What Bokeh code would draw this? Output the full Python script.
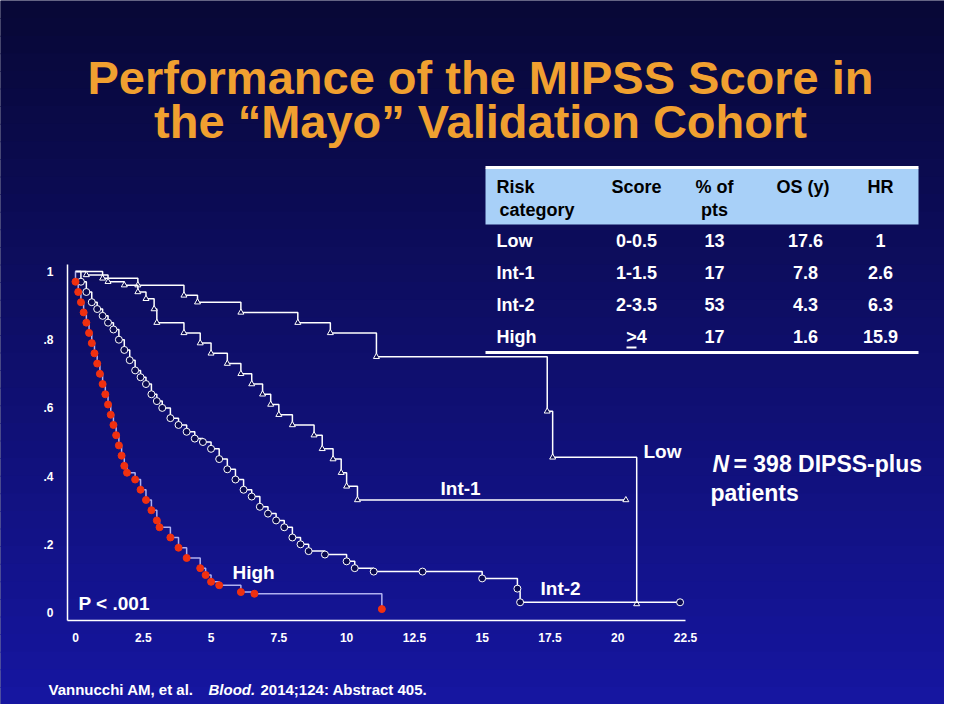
from bokeh.plotting import figure
from bokeh.models import LinearAxis, FixedTicker, Range1d
from bokeh.core.properties import value
from bokeh.embed import file_html
from bokeh.resources import INLINE

FONT = value("Liberation Sans")

# Kaplan-Meier steps (years, survival)
low_t = [0, 1.0, 2.3, 4.0, 4.5, 6.1, 8.2, 9.4, 11.1, 17.4, 17.6, 20.7]
low_s = [1, 0.98, 0.96, 0.93, 0.91, 0.88, 0.85, 0.82, 0.75, 0.59, 0.455, 0.025]
int1_t = [0, 0.4, 1.2, 1.8, 2.3, 2.6, 2.9, 3.0, 4.0, 4.6, 5.0, 5.6, 6.1, 6.5, 6.9,
          7.2, 7.5, 8.0, 8.8, 9.1, 9.5, 9.8, 10.0, 10.4, 20.3]
int1_s = [1, 0.99, 0.97, 0.96, 0.94, 0.92, 0.89, 0.85, 0.82, 0.79, 0.76, 0.73, 0.70,
          0.67, 0.64, 0.61, 0.58, 0.55, 0.52, 0.48, 0.45, 0.41, 0.37, 0.33, 0.33]
int2_t = [0, 0.2, 0.4, 0.6, 0.8, 1.0, 1.2, 1.4, 1.6, 1.8, 2.0, 2.2, 2.4, 2.6, 2.8,
          3.0, 3.2, 3.5, 3.8, 4.1, 4.4, 4.7, 5.0, 5.3, 5.6, 5.9, 6.2, 6.5, 6.8,
          7.1, 7.4, 7.7, 8.0, 8.3, 8.6, 9.2, 10.0, 10.3, 11.0, 12.8, 15.0, 16.3, 16.4, 22.3]
int2_s = [1, 0.97, 0.94, 0.91, 0.89, 0.87, 0.85, 0.83, 0.80, 0.77, 0.74, 0.71, 0.69,
          0.67, 0.64, 0.62, 0.60, 0.57, 0.55, 0.53, 0.51, 0.50, 0.48, 0.45, 0.42,
          0.39, 0.36, 0.34, 0.31, 0.29, 0.27, 0.25, 0.22, 0.20, 0.18, 0.17, 0.15,
          0.13, 0.12, 0.12, 0.10, 0.07, 0.03, 0.03]
high_t = [0, 0.1, 0.2, 0.3, 0.4, 0.5, 0.6, 0.7, 0.8, 0.9, 1.0, 1.1, 1.2, 1.3, 1.4,
          1.5, 1.6, 1.7, 1.8, 1.9, 2.2, 2.4, 2.6, 2.8, 3.0, 3.1, 3.5, 3.8, 4.1,
          4.6, 4.8, 5.0, 5.3, 6.1, 6.6, 11.3]
high_s = [0.97, 0.94, 0.91, 0.88, 0.85, 0.82, 0.79, 0.76, 0.73, 0.70, 0.67, 0.64,
          0.61, 0.58, 0.55, 0.52, 0.49, 0.46, 0.43, 0.41, 0.39, 0.36, 0.33, 0.30,
          0.27, 0.25, 0.22, 0.19, 0.16, 0.13, 0.11, 0.09, 0.08, 0.06, 0.055, 0.01]

x_ticks = [0, 2.5, 5, 7.5, 10, 12.5, 15, 17.5, 20, 22.5]
y_ticks = [0, 0.2, 0.4, 0.6, 0.8, 1]
y_labels = {0: "0", 0.2: ".2", 0.4: ".4", 0.6: ".6", 0.8: ".8", 1: "1"}

headers = [["Risk", "category"], ["Score"], ["% of", "pts"], ["OS  (y)"], ["HR"]]
risk = ["Low", "Int-1", "Int-2", "High"]
score = ["0-0.5", "1-1.5", "2-3.5", ">4"]
pct = ["13", "17", "53", "17"]
os_y = ["17.6", "7.8", "4.3", "1.6"]
hr = ["1", "2.6", "6.3", "15.9"]

# map reference pixel positions to data units
X0, XS = 75, 610 / 22.5
Y0, YS = 612, 341.0
def px(x):
    return (x - X0) / XS
def py(y):
    return (Y0 - y) / YS

p = figure(width=944, height=704, output_backend="svg", toolbar_location=None,
           x_range=Range1d(px(0), px(944)), y_range=Range1d(py(704), py(0)),
           min_border=0, x_axis_type=None, y_axis_type=None)
p.grid.visible = False
p.outline_line_color = None
p.background_fill_color = "#0a0a40"
p.border_fill_color = "#0a0a40"

# vertical gradient background
n = 40
for i in range(n):
    f = i / (n - 1)
    r = int(8 + 14 * f); g = int(8 + 14 * f); b = int(55 + 105 * f)
    y1 = 704 * i / n
    p.quad(left=px(-10), right=px(960), top=py(y1), bottom=py(y1 + 704 / n + 1),
           color="#%02x%02x%02x" % (r, g, b), line_color=None)

def txt(x, y, s, size, color="white", align="left", style="bold", base="middle"):
    p.text([px(x)], [py(y)], text=[s], text_font=FONT, text_font_size=f"{size}px",
           text_font_style=style, text_color=color, text_align=align, text_baseline=base)

txt(480, 77, "Performance of the MIPSS Score in", 47, "#f0a030", "center")
txt(480, 121, "the \u201cMayo\u201d Validation Cohort", 47, "#f0a030", "center")

# table
p.quad(left=px(485), right=px(918), top=py(168), bottom=py(224), color="#a8d0f8", line_color=None)
p.segment(px(485), py(167), px(918), py(167), line_color="white", line_width=3)
p.segment(px(485), py(352), px(918), py(352), line_color="white", line_width=3)
hx = [496, 636, 714, 805, 880]
for i, h in enumerate(headers):
    for j, s in enumerate(h):
        if i == 0:
            txt(hx[i] + (0 if j == 0 else 3), 186 + 23 * j, s, 18, "black")
        else:
            txt(hx[i], 186 + 23 * j, s, 18, "black", "center")
for r in range(4):
    y = 240 + 32 * r
    txt(496, y, risk[r], 18)
    txt(636, y, score[r], 18, align="center")
    txt(714, y, pct[r], 18, align="center")
    txt(805, y, os_y[r], 18, align="center")
    txt(880, y, hr[r], 18, align="center")
p.segment(px(626), py(347), px(636), py(347), line_color="white", line_width=2)

# axes
xa = LinearAxis(fixed_location=py(620), ticker=FixedTicker(ticks=x_ticks), bounds=(px(67), 22.5))
ya = LinearAxis(fixed_location=px(67), ticker=FixedTicker(ticks=y_ticks), bounds=(py(620), 1.02),
                major_label_overrides=y_labels)
for ax in (xa, ya):
    ax.axis_line_color = "white"
    ax.axis_line_width = 1.5
    ax.major_tick_line_color = None
    ax.minor_tick_line_color = None
    ax.major_label_text_color = "white"
    ax.major_label_text_font = "Liberation Sans"
    ax.major_label_text_font_style = "bold"
    ax.major_label_text_font_size = "12px"
xa.major_label_standoff = 6
ya.major_label_standoff = 8
p.add_layout(xa, "below")
p.add_layout(ya, "left")

# curves
p.step(low_t, low_s, mode="after", line_color="white", line_width=1.5)
p.scatter(low_t[1:], low_s[1:], marker="triangle", size=6, fill_color="#0a0a50", line_color="white")
p.step(int1_t, int1_s, mode="after", line_color="white", line_width=1.5)
p.scatter(int1_t[1:], int1_s[1:], marker="triangle", size=6, fill_color="#0a0a50", line_color="white")
p.step(int2_t, int2_s, mode="after", line_color="white", line_width=1.5)
p.scatter(int2_t[1:], int2_s[1:], marker="circle", size=7, fill_color="#0a0a50", line_color="white")
p.step([0] + high_t, [1] + high_s, mode="after", line_color="#b0b0f0", line_width=1.5)
p.scatter(high_t, high_s, marker="circle", size=7, fill_color="#f03010", line_color="#f03010")

txt(643, 451, "Low", 19)
txt(440, 488, "Int-1", 19)
txt(540, 588, "Int-2", 19)
txt(232, 572, "High", 19)
txt(78, 603, "P < .001", 19)
txt(712, 463, "N", 23, style="bold italic")
txt(733, 463, "= 398 DIPSS-plus", 23)
txt(710, 492, "patients", 23)

txt(48, 689, "Vannucchi AM, et al.", 15)
txt(208, 689, "Blood.", 15, style="bold italic")
txt(260, 689, "2014;124: Abstract 405.", 15)

open("out.html", "w").write(file_html(p, INLINE))
